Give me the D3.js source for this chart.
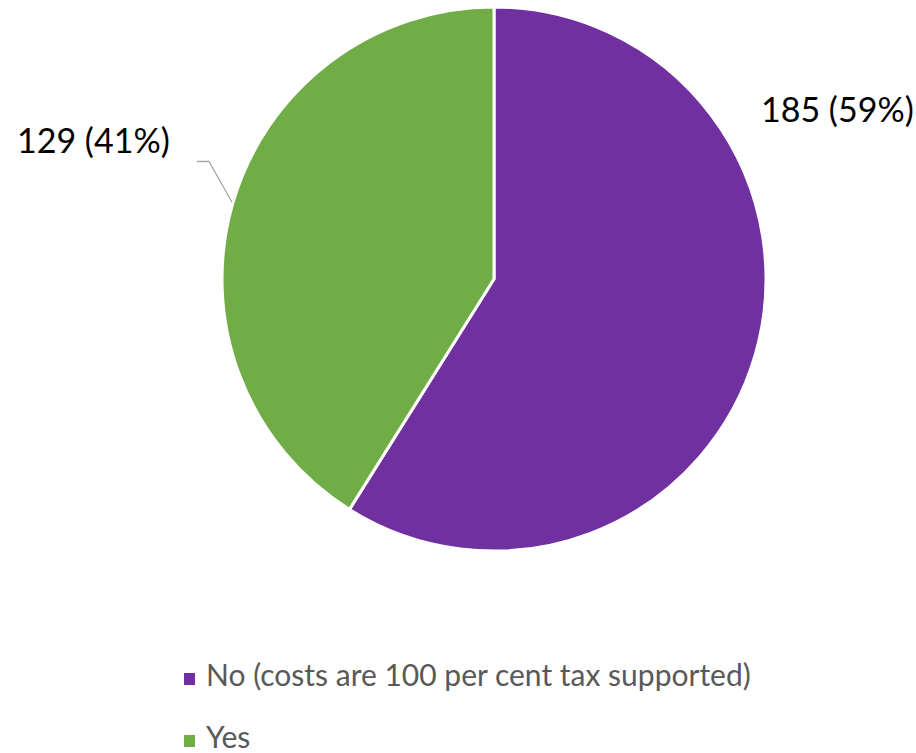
<!DOCTYPE html>
<html>
<head>
<meta charset="utf-8">
<script src="https://cdn.jsdelivr.net/npm/d3@7"></script>
<style>
  html, body { margin: 0; padding: 0; background: #fff; }
  svg { display: block; font-family: Lato, "Open Sans", sans-serif; }
</style>
</head>
<body>
<svg id="chart" width="916" height="753"></svg>
<script>
// Survey answers and counts
const categories = ["No (costs are 100 per cent tax supported)", "Yes"];
const counts = [185, 129];
const percentLabels = ["59%", "41%"];
const colors = ["#7030A0", "#70AD47"];

const svg = d3.select("#chart");
const cx = 494, cy = 279, radius = 272;

const data = categories.map((c, i) => ({ category: c, value: counts[i], pct: percentLabels[i], color: colors[i] }));

const pie = d3.pie().value(d => d.value).sort(null);
const arc = d3.arc().innerRadius(0).outerRadius(radius);
const arcs = pie(data);

const g = svg.append("g").attr("transform", `translate(${cx},${cy})`);
g.selectAll("path.slice")
  .data(arcs)
  .join("path")
  .attr("class", "slice")
  .attr("d", arc)
  .attr("fill", d => d.data.color)
  .attr("stroke", "#fff")
  .attr("stroke-width", 3)
  .attr("stroke-linejoin", "round");

// Data labels placed outside the pie
const labelPos = [
  { x: 761, y: 122 },
  { x: 17, y: 153 }
];
svg.selectAll("text.dl")
  .data(arcs)
  .join("text")
  .attr("class", "dl")
  .attr("x", (d, i) => labelPos[i].x)
  .attr("y", (d, i) => labelPos[i].y)
  .attr("font-size", 34)
  .attr("fill", "#000")
  .text(d => `${d.data.value} (${d.data.pct})`);

// Leader line from the "Yes" label to the edge of its slice
const leaderAngle = -1.286;
const tip = [cx + Math.sin(leaderAngle) * (radius + 1), cy - Math.cos(leaderAngle) * (radius + 1)];
svg.append("polyline")
  .attr("points", `197,161.5 209,161.5 ${tip[0]},${tip[1]}`)
  .attr("fill", "none")
  .attr("stroke", "#A6A6A6")
  .attr("stroke-width", 1.3);

// Legend
const items = svg.append("g").selectAll("g")
  .data(data)
  .join("g")
  .attr("transform", (d, i) => `translate(184, ${673 + i * 62})`);
items.append("rect")
  .attr("width", 11).attr("height", 12)
  .attr("fill", d => d.color);
items.append("text")
  .attr("x", 22).attr("y", 13)
  .attr("font-size", 30)
  .attr("fill", "#595959")
  .text(d => d.category);
</script>
</body>
</html>
